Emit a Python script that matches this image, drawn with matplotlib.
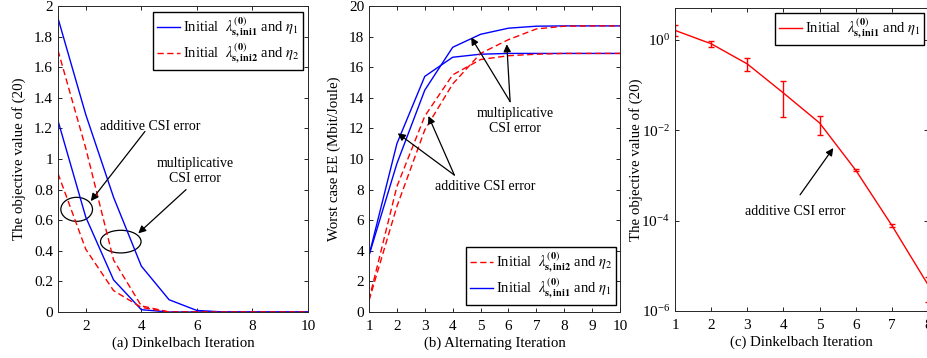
import numpy as np
import matplotlib
matplotlib.use('Agg')
from matplotlib import pyplot as plt
from matplotlib.patches import Ellipse

plt.rcParams['font.family'] = ['Liberation Serif', 'DejaVu Serif']
plt.rcParams['mathtext.fontset'] = 'stix'
plt.rcParams['font.size'] = 10
plt.rcParams['lines.dashed_pattern'] = [4.5, 2.5]

# (a) Dinkelbach iteration, linear scale
iters_a = [1, 2, 3, 4, 5, 6, 7, 8, 9, 10]
blue_mult_a = [1.92, 1.29, 0.75, 0.30, 0.08, 0.01, 0, 0, 0, 0]
blue_add_a = [1.25, 0.62, 0.21, 0.015, 0, 0, 0, 0, 0, 0]
red_mult_a = [1.71, 1.07, 0.34, 0.04, 0, 0, 0, 0, 0, 0]
red_add_a = [0.905, 0.41, 0.14, 0.03, 0, 0, 0, 0, 0, 0]

# (b) alternating iteration
iters_b = [1, 2, 3, 4, 5, 6, 7, 8, 9, 10]
blue_add_b = [3.7, 11.0, 15.4, 16.65, 16.85, 16.9, 16.9, 16.9, 16.9, 16.9]
blue_mult_b = [3.7, 9.7, 14.5, 17.3, 18.15, 18.55, 18.68, 18.7, 18.7, 18.7]
red_add_b = [0.8, 8.2, 12.8, 15.5, 16.5, 16.75, 16.85, 16.9, 16.9, 16.9]
red_mult_b = [0.75, 6.9, 11.9, 14.9, 16.9, 17.8, 18.5, 18.68, 18.7, 18.7]

# (c) Dinkelbach iteration, log scale with error bars
iters_c = [1, 2, 3, 4, 5, 6, 7, 8]
obj_c = [1.6, 0.81, 0.29, 0.066, 0.0144, 0.0013, 7.8e-5, 3.8e-6]
obj_lo = [1.2, 0.69, 0.2, 0.0195, 0.0079, 0.00122, 7.3e-5, 1.55e-6]
obj_hi = [2.1, 0.91, 0.4, 0.12, 0.02, 0.00138, 8.4e-5, 5.7e-6]

lab1 = r'Initial  $\lambda^{(\mathbf{0})}_{\mathbf{s,ini1}}$ and $\eta_1$'
lab2 = r'Initial  $\lambda^{(\mathbf{0})}_{\mathbf{s,ini2}}$ and $\eta_2$'

W, H = 927, 358
fig = plt.figure(figsize=(W / 100, H / 100), dpi=100)


def box(l, r, t, b):
    return [l / W, 1 - b / H, (r - l) / W, (b - t) / H]


def style(ax):
    ax.tick_params(direction='in', top=True, right=True, length=3, width=0.6,
                   labelsize=11, pad=3.5)
    ax.tick_params(axis='x', pad=5.5)
    for s in ax.spines.values():
        s.set_linewidth(0.7)
        s.set_color('#262626')


def arrow(ax, base, tip):
    ax.annotate('', xy=tip, xytext=base,
                arrowprops=dict(arrowstyle='-|>', color='k', lw=0.9,
                                mutation_scale=11, shrinkA=0, shrinkB=0))


leg_kw = dict(fancybox=False, edgecolor='k', framealpha=1, fontsize=10.5,
              borderaxespad=0, handlelength=1.6, handletextpad=0.2,
              borderpad=0.25, labelspacing=0.15)
lab_fs = 10.7

# ---- (a)
ax1 = fig.add_axes(box(58, 308, 6, 312))
ax1.plot(iters_a, blue_mult_a, 'b-', lw=1.0, label=lab1)
ax1.plot(iters_a, red_mult_a, 'r--', lw=1.0, label=lab2)
ax1.plot(iters_a, blue_add_a, 'b-', lw=1.0)
ax1.plot(iters_a, red_add_a, 'r--', lw=1.0)
ax1.set_xlim(1, 10)
ax1.set_ylim(0, 2)
ax1.set_xticks([2, 4, 6, 8, 10])
ax1.set_yticks(np.arange(0, 2.01, 0.2))
ax1.set_yticklabels(['0', '0.2', '0.4', '0.6', '0.8', '1', '1.2', '1.4', '1.6', '1.8', '2'])
ax1.set_xlabel('(a) Dinkelbach Iteration', labelpad=3, fontsize=lab_fs)
ax1.set_ylabel('The objective value of (20)', labelpad=5.5, fontsize=lab_fs)
style(ax1)
ax1.legend(loc='upper right', bbox_to_anchor=(0.98, 0.98), **leg_kw)
ax1.add_patch(Ellipse((1.672, 0.671), 1.14, 0.157, fill=False, ec='k', lw=0.9))
ax1.add_patch(Ellipse((3.26, 0.46), 1.46, 0.148, fill=False, ec='k', lw=0.9))
ax1.text(4.31, 1.21, 'additive CSI error', ha='center', va='center')
arrow(ax1, (4.13, 1.18), (2.18, 0.725))
ax1.text(5.93, 0.92, 'multiplicative\nCSI error', ha='center', va='center',
         linespacing=1.15)
arrow(ax1, (5.61, 0.80), (3.89, 0.514))

# ---- (b)
ax2 = fig.add_axes(box(369, 620, 6, 312))
ax2.plot(iters_b, blue_add_b, 'b-', lw=1.0)
ax2.plot(iters_b, blue_mult_b, 'b-', lw=1.0)
ax2.plot(iters_b, red_add_b, 'r--', lw=1.0)
ax2.plot(iters_b, red_mult_b, 'r--', lw=1.0)
ax2.set_xlim(1, 10)
ax2.set_ylim(0, 20)
ax2.set_xticks(range(1, 11))
ax2.set_yticks(range(0, 21, 2))
ax2.set_xlabel('(b) Alternating Iteration', labelpad=3, fontsize=lab_fs)
ax2.set_ylabel('Worst case EE (Mbit/Joule)', labelpad=5.5, fontsize=lab_fs)
style(ax2)
h_r, = ax2.plot([], [], 'r--', lw=1.0)
h_b, = ax2.plot([], [], 'b-', lw=1.0)
ax2.legend([h_r, h_b], [lab2, lab1], loc='lower right',
           bbox_to_anchor=(0.984, 0.023), **leg_kw)
ax2.text(6.23, 12.5, 'multiplicative\nCSI error', ha='center', va='center',
         linespacing=1.15)
arrow(ax2, (6.06, 13.75), (4.66, 17.95))
arrow(ax2, (6.06, 13.75), (5.94, 17.5))
ax2.text(5.16, 8.19, 'additive CSI error', ha='center', va='center')
arrow(ax2, (4.06, 8.95), (2.03, 11.68))
arrow(ax2, (4.06, 8.95), (3.13, 12.81))

# ---- (c)
ax3 = fig.add_axes(box(675, 928, 8, 311))
obj = np.array(obj_c)
yerr = [obj - np.array(obj_lo), np.array(obj_hi) - obj]
ax3.errorbar(iters_c, obj_c, yerr=yerr, color='r', lw=1.0, elinewidth=1.0,
             capsize=2.5, capthick=1.0, label=lab1)
ax3.set_yscale('log')
ax3.set_xlim(1, 8)
ax3.set_ylim(1e-6, 5)
ax3.set_xticks(range(1, 9))
ax3.set_yticks([1e-6, 1e-4, 1e-2, 1e0])
ax3.yaxis.set_minor_locator(matplotlib.ticker.NullLocator())
ax3.set_xlabel('(c) Dinkelbach Iteration', labelpad=3, fontsize=lab_fs)
ax3.set_ylabel('The objective value of (20)', labelpad=-1, fontsize=lab_fs)
style(ax3)
h_c, = ax3.plot([], [], 'r-', lw=1.0)
ax3.legend([h_c], [lab1], loc='upper right', bbox_to_anchor=(0.984, 0.983),
           **leg_kw)
ax3.text(4.32, 1.6e-4, 'additive CSI error', ha='center', va='center')
arrow(ax3, (4.46, 3.7e-4), (5.38, 4.0e-3))

fig.savefig('out.png', dpi=100)
